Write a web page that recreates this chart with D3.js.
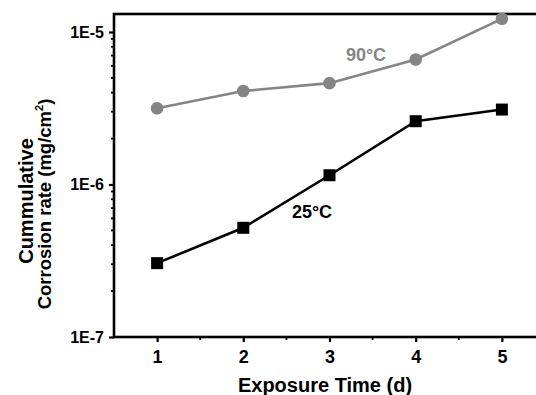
<!DOCTYPE html>
<html>
<head>
<meta charset="utf-8">
<script src="https://cdn.jsdelivr.net/npm/d3@7"></script>
<style>
  body { margin: 0; background: #fff; }
  svg { display: block; font-family: "Liberation Sans", Arial, sans-serif; font-weight: bold; }
</style>
</head>
<body>
<svg id="chart" width="536" height="395"></svg>
<script>
// exposure days
var days = [1, 2, 3, 4, 5];
// cumulative corrosion rate (mg/cm2)
var rate90 = [3.16e-6, 4.1e-6, 4.62e-6, 6.6e-6, 1.22e-5];
var rate25 = [3.05e-7, 5.2e-7, 1.15e-6, 2.6e-6, 3.1e-6];
var yTickLabels = ["1E-7", "1E-6", "1E-5"];
var yTickValues = [1e-7, 1e-6, 1e-5];

var width = 536, height = 395;
var margin = { top: 14, right: -9, bottom: 58, left: 114 };

var svg = d3.select("#chart");

var x = d3.scaleLinear()
    .domain([0.5, 5.5])
    .range([margin.left, width - margin.right]);

var y = d3.scaleLog()
    .domain([1e-7, 1.312e-5])
    .range([height - margin.bottom, margin.top]);

// frame (right edge falls outside the picture)
svg.append("rect")
    .attr("x", margin.left)
    .attr("y", margin.top)
    .attr("width", x.range()[1] - margin.left)
    .attr("height", y.range()[0] - margin.top)
    .attr("fill", "none")
    .attr("stroke", "#000")
    .attr("stroke-width", 2.6);

// minor y ticks
var minorY = [];
[1e-7, 1e-6, 1e-5].forEach(function (d) {
    for (var k = 2; k <= 9; k++) if (d * k <= y.domain()[1]) minorY.push(d * k);
});

var yAxis = function (g) {
    g.attr("transform", "translate(" + margin.left + ",0)")
        .call(d3.axisLeft(y).tickValues(yTickValues)
            .tickFormat(function (d, i) { return yTickLabels[i]; })
            .tickSize(5).tickPadding(5))
        .call(function (g) { g.select(".domain").remove(); })
        .attr("font-family", null)
        .attr("font-size", "16px");
    g.selectAll(".tick line").attr("stroke-width", 2.2);
    g.selectAll(".minor")
        .data(minorY)
        .join("line")
        .attr("class", "minor")
        .attr("x1", 0).attr("x2", -3)
        .attr("y1", function (d) { return y(d); })
        .attr("y2", function (d) { return y(d); })
        .attr("stroke", "#000")
        .attr("stroke-width", 1.8);
};

var xAxis = function (g) {
    g.attr("transform", "translate(0," + y.range()[0] + ")")
        .call(d3.axisBottom(x).tickValues(days).tickFormat(d3.format("d"))
            .tickSize(5).tickPadding(8))
        .call(function (g) { g.select(".domain").remove(); })
        .attr("font-family", null)
        .attr("font-size", "18px");
    g.selectAll(".tick line").attr("stroke-width", 2.2);
    g.selectAll(".minor")
        .data([1.5, 2.5, 3.5, 4.5])
        .join("line")
        .attr("class", "minor")
        .attr("y1", 0).attr("y2", 3)
        .attr("x1", function (d) { return x(d); })
        .attr("x2", function (d) { return x(d); })
        .attr("stroke", "#000")
        .attr("stroke-width", 1.8);
};

svg.append("g").call(yAxis);
svg.append("g").call(xAxis);

var line = function (vals) {
    return d3.line()
        .x(function (d, i) { return x(days[i]); })
        .y(function (d) { return y(d); })(vals);
};

// 90°C series
svg.append("path")
    .attr("d", line(rate90))
    .attr("fill", "none")
    .attr("stroke", "#858585")
    .attr("stroke-width", 2.6);

svg.append("g")
    .selectAll("circle")
    .data(rate90)
    .join("circle")
    .attr("cx", function (d, i) { return x(days[i]); })
    .attr("cy", function (d) { return y(d); })
    .attr("r", 6.3)
    .attr("fill", "#858585");

// 25°C series
svg.append("path")
    .attr("d", line(rate25))
    .attr("fill", "none")
    .attr("stroke", "#000")
    .attr("stroke-width", 2.6);

svg.append("g")
    .selectAll("rect")
    .data(rate25)
    .join("rect")
    .attr("x", function (d, i) { return x(days[i]) - 6; })
    .attr("y", function (d) { return y(d) - 6; })
    .attr("width", 12)
    .attr("height", 12)
    .attr("fill", "#000");

// series labels
svg.append("text")
    .attr("x", 366).attr("y", 61)
    .attr("text-anchor", "middle")
    .attr("font-size", "18px")
    .attr("fill", "#858585")
    .text("90°C");

svg.append("text")
    .attr("x", 312).attr("y", 218)
    .attr("text-anchor", "middle")
    .attr("font-size", "18px")
    .attr("fill", "#000")
    .text("25°C");

// axis titles
svg.append("text")
    .attr("x", 325).attr("y", 392)
    .attr("text-anchor", "middle")
    .attr("font-size", "20px")
    .text("Exposure Time (d)");

svg.append("text")
    .attr("transform", "translate(33,201) rotate(-90)")
    .attr("text-anchor", "middle")
    .attr("font-size", "20px")
    .text("Cummulative");

var yt = svg.append("text")
    .attr("transform", "translate(51,204) rotate(-90)")
    .attr("text-anchor", "middle")
    .attr("font-size", "18.5px");
yt.append("tspan").text("Corrosion rate (mg/cm");
yt.append("tspan").attr("dy", -8).attr("font-size", "11px").text("2");
yt.append("tspan").attr("dy", 8).text(")");
</script>
</body>
</html>
